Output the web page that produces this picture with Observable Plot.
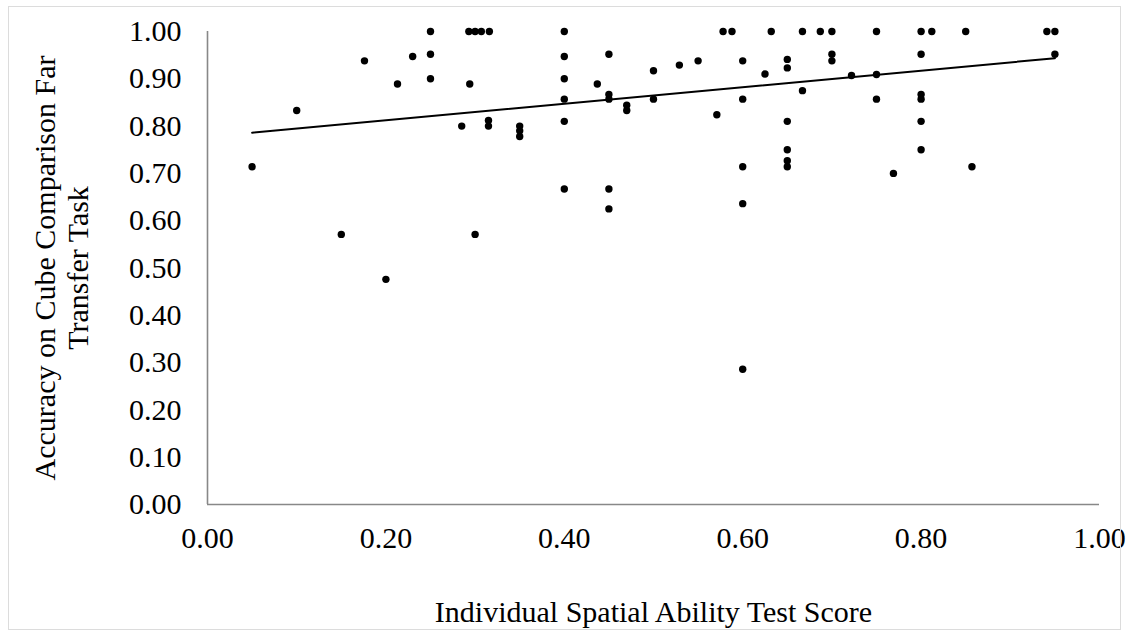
<!DOCTYPE html>
<html>
<head>
<meta charset="utf-8">
<script src="https://cdn.jsdelivr.net/npm/d3@7"></script>
<script src="https://cdn.jsdelivr.net/npm/@observablehq/plot@0.6"></script>
<style>
  html, body { margin: 0; padding: 0; background: #fff; }
  #wrap { position: relative; width: 1127px; height: 636px; }
  #border { position: absolute; left: 8px; top: 6px; width: 1111px; height: 622px; border: 1px solid #dcdcdc; pointer-events: none; }
  #wrap svg, #wrap svg text { font-family: "Liberation Serif", "Times New Roman", Times, serif !important; font-size: 30px !important; }
</style>
</head>
<body>
<div id="wrap"><div id="border"></div></div>
<script>
// Individual spatial ability score (x) and far-transfer accuracy (y)
const spatialScore = [
  0.05, 0.10, 0.15, 0.176, 0.20, 0.213, 0.23, 0.25, 0.25, 0.25,
  0.285, 0.293, 0.294, 0.30, 0.30, 0.307, 0.316, 0.315, 0.315, 0.35,
  0.35, 0.35, 0.40, 0.40, 0.40, 0.40, 0.40, 0.40, 0.437, 0.45,
  0.45, 0.45, 0.45, 0.45, 0.47, 0.47, 0.50, 0.50, 0.529, 0.55,
  0.571, 0.578, 0.588, 0.60, 0.60, 0.60, 0.60, 0.60, 0.625, 0.632,
  0.65, 0.65, 0.65, 0.65, 0.65, 0.65, 0.667, 0.667, 0.687, 0.70,
  0.70, 0.70, 0.722, 0.75, 0.75, 0.75, 0.769, 0.80, 0.80, 0.80,
  0.80, 0.80, 0.80, 0.812, 0.85, 0.857, 0.941, 0.95, 0.95
];
const accuracy = [
  0.714, 0.833, 0.571, 0.938, 0.476, 0.889, 0.947, 1.0, 0.952, 0.90,
  0.80, 1.0, 0.889, 1.0, 0.571, 1.0, 1.0, 0.812, 0.80, 0.80,
  0.79, 0.778, 1.0, 0.947, 0.90, 0.857, 0.81, 0.667, 0.889, 0.952,
  0.867, 0.857, 0.667, 0.625, 0.844, 0.833, 0.917, 0.857, 0.929, 0.938,
  0.824, 1.0, 1.0, 0.938, 0.857, 0.714, 0.636, 0.286, 0.91, 1.0,
  0.941, 0.923, 0.81, 0.75, 0.727, 0.714, 1.0, 0.875, 1.0, 1.0,
  0.952, 0.938, 0.907, 1.0, 0.909, 0.857, 0.70, 1.0, 0.952, 0.867,
  0.857, 0.81, 0.75, 1.0, 1.0, 0.714, 1.0, 1.0, 0.952
];
// Linear trendline (endpoints)
const trendX = [0.05, 0.95];
const trendY = [0.786, 0.9435];

const xTicks = [0, 0.2, 0.4, 0.6, 0.8, 1.0];
const yTicks = [0, 0.1, 0.2, 0.3, 0.4, 0.5, 0.6, 0.7, 0.8, 0.9, 1.0];
const xTitle = "Individual Spatial Ability Test Score";
const yTitle = "Accuracy on Cube Comparison Far\nTransfer Task";

const points = spatialScore.map((x, i) => ({x, y: accuracy[i]}));
const trend = trendX.map((x, i) => ({x, y: trendY[i]}));
const fmt = d => d.toFixed(2);

const chart = Plot.plot({
  width: 1127,
  height: 636,
  marginLeft: 207,
  marginRight: 28,
  marginTop: 31,
  marginBottom: 132,
  style: { fontFamily: "Liberation Serif, serif", fontSize: "30px", background: "transparent", color: "#000" },
  x: { domain: [0, 1] },
  y: { domain: [0, 1] },
  marks: [
    Plot.ruleX([0], { stroke: "#888", strokeWidth: 1.6 }),
    Plot.ruleY([0], { stroke: "#888", strokeWidth: 1.6 }),
    Plot.axisY({ ticks: yTicks, tickSize: 0, tickPadding: 26, tickFormat: fmt, label: null, fill: "#000" }),
    Plot.axisX({ ticks: xTicks, tickSize: 0, tickPadding: 22, tickFormat: fmt, label: null, fill: "#000" }),
    Plot.line(trend, { x: "x", y: "y", stroke: "#000", strokeWidth: 2 }),
    Plot.dot(points, { x: "x", y: "y", r: 3.7, fill: "#000", stroke: "none" }),
    Plot.text([xTitle], { frameAnchor: "bottom", lineAnchor: "middle", dy: 108, fill: "#000" }),
    Plot.text([yTitle], { frameAnchor: "left", textAnchor: "middle", lineAnchor: "middle", rotate: -90, dx: -147, lineHeight: 1.1, fill: "#000" })
  ]
});
document.getElementById("wrap").prepend(chart);
</script>
</body>
</html>
